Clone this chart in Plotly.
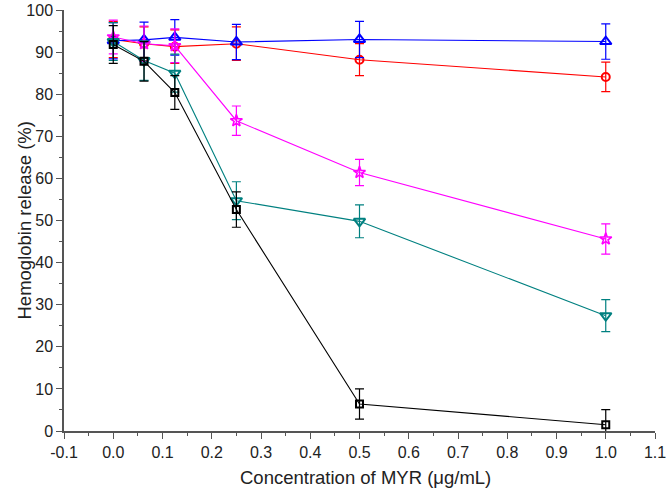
import plotly.graph_objects as go

conc = [0, 0.0625, 0.125, 0.25, 0.5, 1.0]

black_y = [91.8, 87.8, 80.4, 52.6, 6.4, 1.5]
black_err = [4.5, 4.7, 4.0, 4.2, 3.6, 3.6]

teal_y = [92.5, 88.0, 85.0, 54.7, 49.8, 27.4]
teal_err = [4.5, 4.7, 4.5, 4.5, 3.9, 3.8]

magenta_y = [93.6, 92.0, 91.5, 73.7, 61.4, 45.6]
magenta_err = [4.0, 4.2, 4.0, 3.5, 3.1, 3.6]

red_y = [93.0, 92.0, 91.3, 92.0, 88.2, 84.1]
red_err = [4.3, 4.0, 4.0, 4.0, 3.8, 3.5]

blue_y = [92.7, 92.9, 93.5, 92.4, 93.0, 92.5]
blue_err = [4.3, 4.2, 4.2, 4.2, 4.3, 4.2]

x_ticks = [-0.1, 0.0, 0.1, 0.2, 0.3, 0.4, 0.5, 0.6, 0.7, 0.8, 0.9, 1.0, 1.1]
y_ticks = [0, 10, 20, 30, 40, 50, 60, 70, 80, 90, 100]

series = [
    ("red", red_y, red_err, "#FF0000", "circle-open", 8, 2),
    ("blue", blue_y, blue_err, "#0000FF", "triangle-up-open", 10, 2),
    ("magenta", magenta_y, magenta_err, "#FF00FF", "star-open", 9, 1.6),
    ("teal", teal_y, teal_err, "#008080", "triangle-down-open", 10, 2),
    ("black", black_y, black_err, "#000000", "square-open", 7, 2),
]

fig = go.Figure()
for name, ys, errs, color, sym, size, lw in series:
    fig.add_trace(go.Scatter(
        x=conc, y=ys, name=name, mode="lines+markers",
        line=dict(color=color, width=1.1),
        marker=dict(symbol=sym, size=size, color=color, line=dict(color=color, width=lw)),
        error_y=dict(type="data", array=errs, visible=True, color=color,
                     thickness=1.2, width=4.5),
        cliponaxis=False,
    ))

font_family = "Liberation Sans, Arial, sans-serif"
fig.update_layout(
    width=666, height=492,
    margin=dict(l=64, r=11, t=10, b=61, autoexpand=False),
    plot_bgcolor="white", paper_bgcolor="white",
    showlegend=False,
    font=dict(family=font_family, size=16, color="#222222"),
    annotations=[
        dict(text="Concentration of MYR (μg/mL)", xref="paper", yref="paper",
             x=0.51, y=-0.11, xanchor="center", yanchor="middle",
             showarrow=False, font=dict(size=18.5, color="#222222")),
        dict(text="Hemoglobin release (%)", xref="paper", yref="paper",
             x=-0.066, y=0.5, xanchor="center", yanchor="middle", textangle=-90,
             showarrow=False, font=dict(size=18.5, color="#222222")),
    ],
)
fig.update_xaxes(
    range=[-0.1, 1.1], tickvals=x_ticks,
    ticktext=[f"{v:.1f}" for v in x_ticks],
    ticklabeloverflow="allow",
    showgrid=False, zeroline=False, automargin=False,
    showline=True, linecolor="#555555", linewidth=1.5,
    ticks="outside", ticklen=6, tickcolor="#555555", tickwidth=1.2,
    minor=dict(dtick=0.05, tick0=-0.1, ticks="outside", ticklen=3, tickcolor="#555555", tickwidth=1.2),
    tickfont=dict(size=16),
)
fig.update_yaxes(
    range=[0, 100], tickvals=y_ticks,
    ticklabeloverflow="allow",
    showgrid=False, zeroline=False, automargin=False,
    showline=True, linecolor="#555555", linewidth=1.5,
    ticks="outside", ticklen=6, tickcolor="#555555", tickwidth=1.2,
    minor=dict(dtick=5, ticks="outside", ticklen=3, tickcolor="#555555", tickwidth=1.2),
    tickfont=dict(size=16),
)

fig.write_html("out.html", config={"displayModeBar": False},
               post_script="document.body.style.margin='0';")
